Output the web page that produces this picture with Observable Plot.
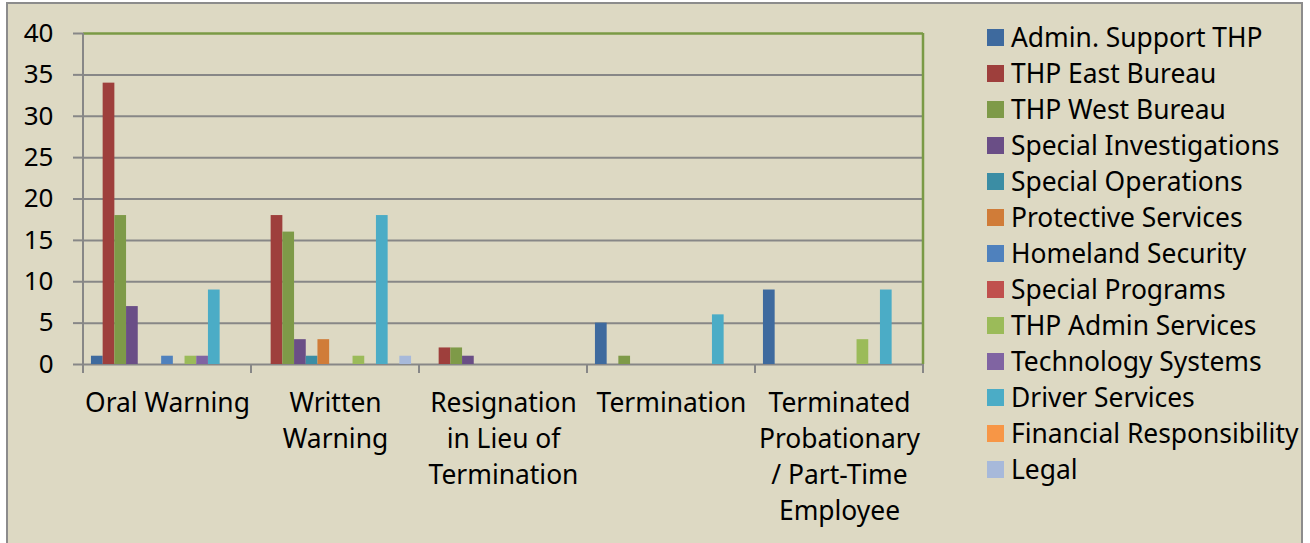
<!DOCTYPE html>
<html>
<head>
<meta charset="utf-8">
<script src="https://cdn.jsdelivr.net/npm/d3@7"></script>
<script src="https://cdn.jsdelivr.net/npm/@observablehq/plot@0.6"></script>
<style>
  html, body { margin: 0; padding: 0; background: #ffffff; }
  #wrap { position: relative; width: 1310px; height: 543px; overflow: hidden; background: #ffffff; }
  #panel { position: absolute; left: 6px; top: 2px; width: 1297px; height: 560px; background: #DDD9C3; border: 2px solid #8c8c8c; box-sizing: border-box; }
  #plot { position: absolute; left: 0; top: 0; }
  #legend { position: absolute; left: 987px; top: 19px; font-family: "Noto Sans", sans-serif; font-size: 26.4px; color: #000; }
  .item { height: 36px; line-height: 36px; display: flex; align-items: center; white-space: nowrap; }
  .sw { width: 17px; height: 17px; margin-right: 7px; flex: none; }
</style>
</head>
<body>
<div id="wrap">
  <div id="panel"></div>
  <div id="plot"></div>
  <div id="legend"></div>
</div>
<script>
const categories = ["Oral Warning", "Written Warning", "Resignation in Lieu of Termination", "Termination", "Terminated Probationary / Part-Time Employee"];
const categoryLabels = ["Oral Warning", "Written\nWarning", "Resignation\nin Lieu of\nTermination", "Termination", "Terminated\nProbationary\n/ Part-Time\nEmployee"];
const series = ["Admin. Support THP", "THP East Bureau", "THP West Bureau", "Special Investigations", "Special Operations", "Protective Services", "Homeland Security", "Special Programs", "THP Admin Services", "Technology Systems", "Driver Services", "Financial Responsibility", "Legal"];
const colors = ["#3E6A9E", "#9E3F3C", "#7E9A48", "#6A4E86", "#3B8DA4", "#D07C38", "#4F81BD", "#C0504D", "#9BBB59", "#8064A2", "#4BACC6", "#F79646", "#A7B9DA"];

const adminSupport = [1, 0, 0, 5, 9];
const eastBureau = [34, 18, 2, 0, 0];
const westBureau = [18, 16, 2, 1, 0];
const specialInvestigations = [7, 3, 1, 0, 0];
const specialOperations = [0, 1, 0, 0, 0];
const protectiveServices = [0, 3, 0, 0, 0];
const homelandSecurity = [1, 0, 0, 0, 0];
const specialPrograms = [0, 0, 0, 0, 0];
const thpAdminServices = [1, 1, 0, 0, 3];
const technologySystems = [1, 0, 0, 0, 0];
const driverServices = [9, 18, 0, 6, 9];
const financialResponsibility = [0, 0, 0, 0, 0];
const legal = [0, 1, 0, 0, 0];

const yTicks = [0, 5, 10, 15, 20, 25, 30, 35, 40];

const seriesValues = [adminSupport, eastBureau, westBureau, specialInvestigations, specialOperations, protectiveServices, homelandSecurity, specialPrograms, thpAdminServices, technologySystems, driverServices, financialResponsibility, legal];

const rows = [];
series.forEach((s, i) => {
  categories.forEach((c, j) => {
    const v = seriesValues[i][j];
    if (v > 0) rows.push({category: c, series: s, value: v});
  });
});

const labelRows = categories.map((c, i) => ({category: c, label: categoryLabels[i]}));

const GRID = "#878787";
const GREEN = "#7A9A45";

const plot = Plot.plot({
  width: 960,
  height: 543,
  marginLeft: 83,
  marginRight: 37,
  marginTop: 33,
  marginBottom: 179,
  style: {background: "transparent", fontFamily: "Noto Sans, sans-serif", fontSize: "26px", color: "#000", overflow: "visible"},
  fx: {domain: categories, padding: 0, round: false, axis: null},
  x: {domain: series, paddingInner: 0, paddingOuter: 0.68, round: false, axis: null},
  y: {domain: [0, 40], axis: null},
  color: {domain: series, range: colors},
  marks: [
    Plot.ruleY(yTicks.slice(0, -1), {stroke: GRID, strokeWidth: 2}),
    Plot.ruleY([40], {stroke: GREEN, strokeWidth: 2.5}),
    Plot.axisY({ticks: yTicks, tickSize: 10, tickPadding: 20, stroke: GRID, strokeWidth: 2, strokeOpacity: 1, fontSize: 26, fill: "#000", label: null}),
    Plot.barY(rows, {fx: "category", x: "series", y: "value", fill: "series"}),
    Plot.text(labelRows, {fx: "category", text: "label", frameAnchor: "bottom", lineAnchor: "top", dy: 22, lineHeight: 36 / 26.4, fontSize: 26.4, fill: "#000"})
  ]
});

document.getElementById("plot").appendChild(plot);

// Axis decorations: y-axis line, category boundary ticks and right border, placed via Plot's scales
const svg = d3.select(plot);
const fxS = plot.scale("fx");
const yS = plot.scale("y");
const bw = fxS.bandwidth;
let starts = categories.map(c => fxS.apply(c));
const offset = (starts[0] < 40) ? 83 : 0;
starts = starts.map(s => s + offset);
const bounds = starts.concat([starts[starts.length - 1] + bw]);
const y0 = yS.apply(0), y40 = yS.apply(40);
const deco = svg.append("g");
bounds.forEach((bx, i) => {
  deco.append("line").attr("x1", bx).attr("x2", bx)
    .attr("y1", i === 0 ? y40 : y0).attr("y2", y0 + 9)
    .attr("stroke", GRID).attr("stroke-width", 2);
});
deco.append("line").attr("x1", bounds[bounds.length - 1]).attr("x2", bounds[bounds.length - 1])
  .attr("y1", y40).attr("y2", y0).attr("stroke", GREEN).attr("stroke-width", 2.5);

// Legend
const legend = document.getElementById("legend");
series.forEach((s, i) => {
  const item = document.createElement("div");
  item.className = "item";
  const sw = document.createElement("span");
  sw.className = "sw";
  sw.style.background = colors[i];
  const t = document.createElement("span");
  t.textContent = s;
  item.appendChild(sw);
  item.appendChild(t);
  legend.appendChild(item);
});
</script>
</body>
</html>
